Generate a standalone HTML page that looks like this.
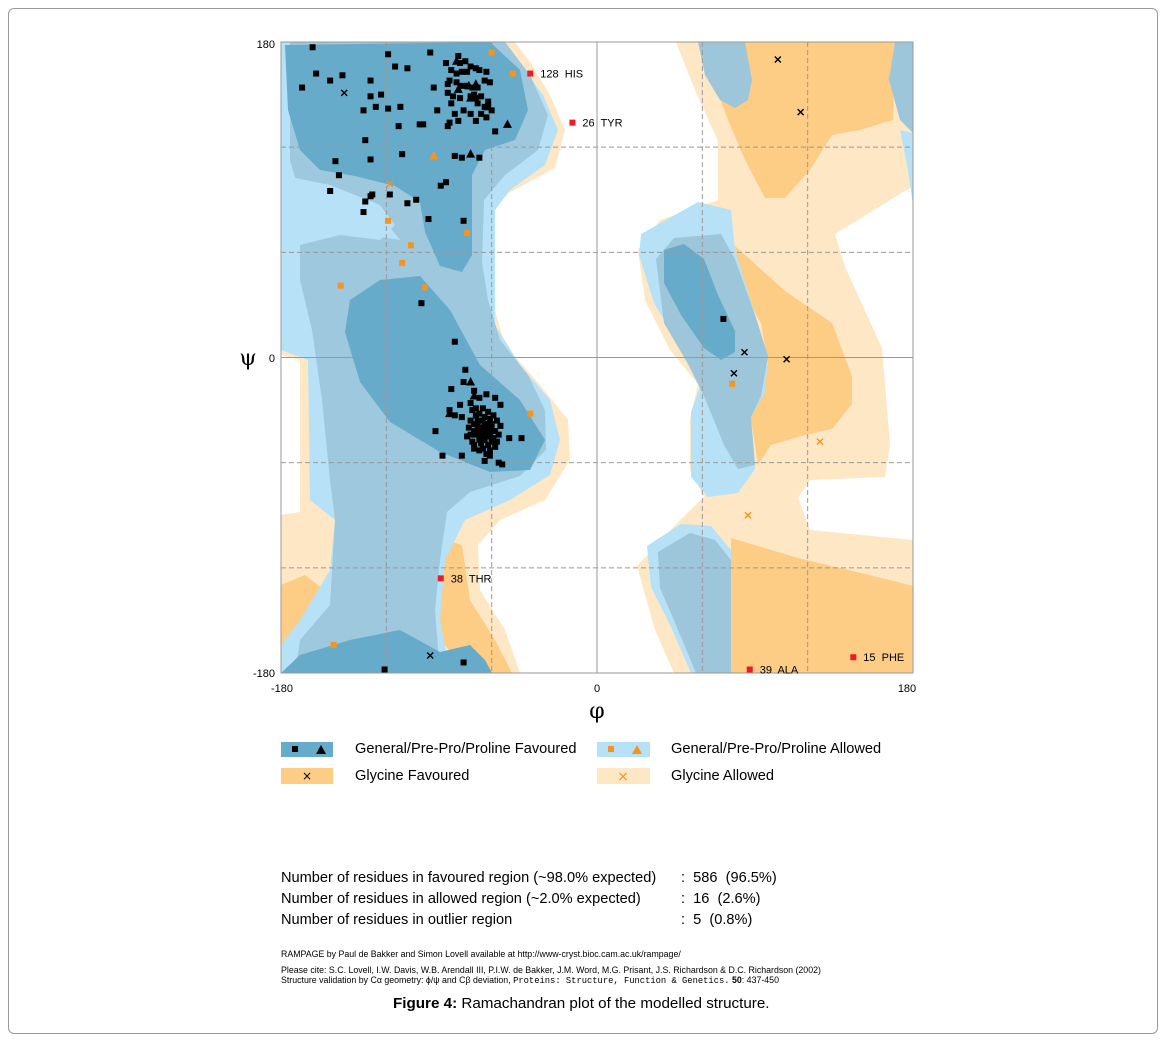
<!DOCTYPE html>
<html><head><meta charset="utf-8"><style>
body{margin:0;background:#fff;font-family:"Liberation Sans",sans-serif;}
#frame{position:absolute;left:8px;top:8px;width:1148px;height:1024px;border:1px solid #999;border-radius:6px;}
.t{position:absolute;color:#000;white-space:nowrap;}
</style></head><body>
<div id="frame"></div>
<svg id="plot" width="1165" height="1042" style="position:absolute;left:0;top:0" xmlns="http://www.w3.org/2000/svg">
<defs><clipPath id="pc"><rect x="281" y="42" width="632" height="631"/></clipPath></defs>
<g clip-path="url(#pc)">
<polygon fill="#fde7c5" points="281,42 515,42 530,62 550,95 565,130 555,168 505,195 492,215 492,300 505,345 540,385 568,420 570,460 545,500 500,520 478,545 480,590 505,630 520,673 281,673 281,515 300,512 300,360 281,355"/>
<polygon fill="#fdcc85" points="281,585 305,575 330,595 305,640 281,662"/>
<polygon fill="#fdcc85" points="440,538 462,545 470,600 495,640 512,673 470,673 440,640 432,600"/>
<polygon fill="#b6e1f6" points="281,42 505,42 518,62 543,95 558,130 545,165 510,190 495,210 495,325 520,365 550,400 560,440 550,475 510,500 465,520 445,560 440,620 450,673 281,673 281,645 300,620 330,570 335,520 310,500 308,360 281,350"/>
<polygon fill="#9ec8dd" points="290,42 505,42 530,75 548,115 538,150 505,175 484,200 482,262 488,300 500,340 528,375 545,410 546,450 520,476 470,492 447,512 440,560 435,610 440,673 295,673 300,640 330,605 335,520 330,480 322,400 312,330 300,280 300,240 350,232 400,240 380,215 340,200 300,195 290,160"/>
<polygon fill="#b6e1f6" points="281,175 330,185 380,205 395,225 380,240 340,235 300,245 281,245"/>
<polygon fill="#67abcb" points="285,45 490,42 520,70 528,110 515,140 485,150 472,175 472,255 462,272 440,266 425,232 420,202 395,186 355,176 320,170 300,150 288,110"/>
<polygon fill="#67abcb" points="350,300 380,280 420,276 450,310 480,365 520,400 545,440 530,470 490,472 440,452 390,422 360,382 345,332"/>
<polygon fill="#67abcb" points="281,673 300,655 350,640 400,630 440,652 470,645 485,660 492,673"/>
<polygon fill="#fde7c5" points="676,42 913,42 913,186 835,234 845,267 882,348 890,445 885,477 810,480 798,498 810,530 913,540 913,673 674,673 655,630 637,566 680,520 704,497 690,470 690,420 698,384 670,350 645,300 638,250 660,220 718,200 718,141 695,90"/>
<polygon fill="#fdcc85" points="712,42 895,42 893,120 860,130 832,135 810,170 785,198 765,198 745,160 728,120 715,85"/>
<polygon fill="#fdcc85" points="735,246 785,291 832,323 852,376 852,404 832,429 805,435 771,445 758,465 750,412 768,364 761,323 738,283"/>
<polygon fill="#fdcc85" points="731,538 798,558 865,574 913,586 913,673 731,673"/>
<polygon fill="#9ec6da" points="698,42 745,42 752,80 748,100 735,108 720,100 705,75"/>
<polygon fill="#9ec6da" points="895,42 913,42 913,133 900,120 889,80"/>
<polygon fill="#b6e1f6" points="913,133 913,205 908,170 900,130"/>
<polygon fill="#b6e1f6" points="641,234 698,202 731,210 735,250 755,315 768,356 765,392 751,417 755,469 738,493 708,497 691,477 691,412 701,384 681,348 654,303 639,255"/>
<polygon fill="#9ec6da" points="656,259 674,238 721,234 735,259 755,315 768,356 761,396 751,417 755,465 738,469 724,445 704,396 688,364 664,323"/>
<polygon fill="#67abcb" points="664,250 684,244 704,259 718,295 735,331 735,352 721,360 704,348 681,315 664,283"/>
<polygon fill="#b6e1f6" points="647,546 681,524 711,526 731,550 731,673 691,673 671,627 651,587"/>
<polygon fill="#9ec6da" points="658,552 690,533 715,540 731,560 731,673 696,673 676,625 660,588"/>
</g>
<g id="grid"></g>
<rect x="281" y="42" width="632" height="631" fill="none" stroke="#999" stroke-width="1"/>
<g id="marks"></g>
<text x="275" y="48" font-size="11" text-anchor="end" font-family="Liberation Sans">180</text>
<text x="275" y="362" font-size="11" text-anchor="end" font-family="Liberation Sans">0</text>
<text x="275" y="677" font-size="11" text-anchor="end" font-family="Liberation Sans">-180</text>
<text x="282" y="692" font-size="11" text-anchor="middle" font-family="Liberation Sans">-180</text>
<text x="597" y="692" font-size="11" text-anchor="middle" font-family="Liberation Sans">0</text>
<text x="907" y="692" font-size="11" text-anchor="middle" font-family="Liberation Sans">180</text>
<text x="248" y="365" font-size="22" text-anchor="middle" font-family="DejaVu Serif,serif">ψ</text>
<text x="597" y="718" font-size="22" text-anchor="middle" font-family="DejaVu Serif,serif">φ</text>
<g>
<rect x="281" y="742" width="52" height="15" fill="#67abcb"/>
<rect x="292" y="746" width="6" height="6" fill="#000"/><polygon points="321,745 326,754 316,754" fill="#000"/>
<rect x="597" y="742" width="53" height="15" fill="#b6e1f6"/>
<rect x="608" y="746" width="6" height="6" fill="#f7941d"/><polygon points="637,745 642,754 632,754" fill="#f7941d"/>
<rect x="281" y="768" width="52" height="16" fill="#fdcc85"/>
<text x="307" y="780" font-size="12" text-anchor="middle" font-family="DejaVu Sans">×</text>
<rect x="597" y="768" width="53" height="16" fill="#fde7c5"/>
<text x="623" y="781" font-size="14" text-anchor="middle" fill="#f7941d" font-family="DejaVu Sans">×</text>
</g>
</svg>
<div class="t" style="left:355px;top:741px;font-size:14.6px">General/Pre-Pro/Proline Favoured</div>
<div class="t" style="left:671px;top:741px;font-size:14.6px">General/Pre-Pro/Proline Allowed</div>
<div class="t" style="left:355px;top:768px;font-size:14.6px">Glycine Favoured</div>
<div class="t" style="left:671px;top:768px;font-size:14.6px">Glycine Allowed</div>
<div>
<div class="t" style="left:281px;top:870px;font-size:14.6px">Number of residues in favoured region (~98.0% expected)</div>
<div class="t" style="left:681px;top:870px;font-size:14.6px">:&nbsp; 586&nbsp; (96.5%)</div>
<div class="t" style="left:281px;top:891px;font-size:14.6px">Number of residues in allowed region (~2.0% expected)</div>
<div class="t" style="left:681px;top:891px;font-size:14.6px">:&nbsp; 16&nbsp; (2.6%)</div>
<div class="t" style="left:281px;top:912px;font-size:14.6px">Number of residues in outlier region</div>
<div class="t" style="left:681px;top:912px;font-size:14.6px">:&nbsp; 5&nbsp; (0.8%)</div>
</div>
<div class="t" style="left:281px;top:949px;font-size:8.8px">RAMPAGE by Paul de Bakker and Simon Lovell available at http://www-cryst.bioc.cam.ac.uk/rampage/</div>
<div class="t" style="left:281px;top:965px;font-size:8.8px">Please cite: S.C. Lovell, I.W. Davis, W.B. Arendall III, P.I.W. de Bakker, J.M. Word, M.G. Prisant, J.S. Richardson &amp; D.C. Richardson (2002)</div>
<div class="t" style="left:281px;top:975px;font-size:8.8px">Structure validation by Cα geometry: ϕ/ψ and Cβ deviation, <span style="font-family:'Liberation Mono',monospace">Proteins: Structure, Function &amp; Genetics.</span> <b>50</b>: 437-450</div>
<div class="t" style="left:393px;top:995px;font-size:15.2px"><b>Figure 4:</b> Ramachandran plot of the modelled structure.</div>
<script>
const genFavSquares=[[-162,177],[-160,162],[-168,154],[-145,161],[-152,158],[-129,158],[-119,173],[-115,166],[-108,165],[-95,174],[-129,149],[-123,150],[-133,141],[-126,143],[-119,142],[-112,143],[-93,154],[-85,156],[-132,124],[-113,132],[-101,133],[-99,133],[-91,141],[-129,113],[-111,116],[-149,112],[-147,104],[-152,95],[-132,89],[-129,92],[-128,93],[-133,83],[-118,93],[-108,88],[-103,90],[-96,79],[-76,78],[-89,98],[-86,100],[-77,114],[-81,115],[-85,132],[-84,134],[-76,141],[-70,150],[-60,141],[-58,129],[-67,114],
[-79,172],[-78,168],[-75,169],[-72,166],[-86,168],[-83,164],[-80,162],[-77,163],[-74,163],[-69,165],[-67,164],[-63,163],[-84,158],[-80,157],[-77,155],[-74,155],[-71,154],[-68,154],[-64,158],[-61,157],[-85,151],[-82,149],[-78,148],[-72,149],[-69,148],[-66,149],[-62,146],[-68,145],[-64,143],[-62,143],[-72,139],[-66,139],[-63,137],[-81,139],[-79,135],[-83,145],[-69,135],
[-100,31],[-81,9],[72,22],[-121,-178],[-76,-174],
[-75,-7],[-83,-18],[-76,-14],[-70,-19],[-67,-23],[-63,-21],[-78,-27],[-84,-30],[-92,-42],[-88,-56],[-77,-56],[-70,-52],[-64,-59],[-61,-56],[-56,-60],[-54,-61],[-50,-46],[-43,-46],[-55,-27],[-58,-23],[-77,-34],[-72,-26],[-69,-29],[-81,-33],
[-66,-40],[-64,-42],[-68,-38],[-62,-41],[-70,-42],[-65,-36],[-63,-45],[-67,-47],[-60,-38],[-72,-36],[-61,-44],[-69,-44],[-64,-34],[-58,-42],[-66,-49],[-71,-48],[-62,-50],[-59,-46],[-67,-32],[-73,-40],[-57,-36],[-63,-38],[-65,-44],[-68,-41],[-61,-35],[-70,-38],[-64,-47],[-60,-48],[-66,-43],[-62,-31],[-69,-33],[-56,-44],[-74,-45],[-58,-51],[-65,-52],[-71,-30],[-63,-55],[-67,-53],[-60,-41],[-55,-39],[-68,-36],[-66,-46],[-62,-45],[-64,-39],[-70,-50],[-59,-33],[-72,-44],[-57,-48],[-65,-29],[-61,-53]];
const genFavTriangles=[[-80,169],[-73,155],[-79,153],[-69,156],[-72,148],[-62,143],[-51,133],[-72,116],[-72,-14],[-84,-32],[-70,-22]];
const genAllowSquares=[[-60,174],[-48,162],[-119,78],[-106,64],[-111,54],[-146,41],[-98,40],[-74,71],[-38,-32],[77,-15],[-150,-164]];
const genAllowTriangles=[[-93,115]];
const glyFavCrosses=[[-144,151],[103,170],[116,140],[84,3],[78,-9],[108,-1],[-95,-170]];
const glyAllowCrosses=[[-118,99],[127,-48],[86,-90]];
const outlierPoints=[[-38,162],[-14,134],[-89,-126],[87,-178],[146,-171]];
const outlierLabels=["128  HIS","26  TYR","38  THR","39  ALA","15  PHE"];
const gridTicks=[-120,-60,60,120];

const X0=281,W=632,Y0=42,H=631;
function sx(phi){return X0+(phi+180)/360*W;}
function sy(psi){return Y0+(180-psi)/360*H;}
const NS="http://www.w3.org/2000/svg";
const grid=document.getElementById('grid'),marks=document.getElementById('marks');
function mk(tag,attrs,parent){const e=document.createElementNS(NS,tag);for(const k in attrs)e.setAttribute(k,attrs[k]);parent.appendChild(e);return e;}
gridTicks.forEach(v=>{
  const a=mk('line',{x1:sx(v),x2:sx(v),y1:Y0,y2:Y0+H,stroke:'#999','stroke-dasharray':'5,3'},grid);
  
  
  const b=mk('line',{x1:X0,x2:X0+W,y1:sy(v),y2:sy(v),stroke:'#999','stroke-dasharray':'5,3'},grid);
  
  
});
const z1=mk('line',{x1:sx(0),x2:sx(0),y1:Y0,y2:Y0+H,stroke:'#999'},grid);


const z2=mk('line',{x1:X0,x2:X0+W,y1:sy(0),y2:sy(0),stroke:'#999'},grid);


function square(p,c,name){const e=mk('rect',{x:sx(p[0])-3,y:sy(p[1])-3,width:6,height:6,fill:c},marks);
  
  }
function tri(p,c){const x=sx(p[0]),y=sy(p[1]);const e=mk('polygon',{points:`${x},${y-5} ${x+4.5},${y+3.5} ${x-4.5},${y+3.5}`,fill:c},marks);
  
  }
function cross(p,c){const x=sx(p[0]),y=sy(p[1]);const e=mk('path',{d:`M${x-3},${y-3}L${x+3},${y+3}M${x+3},${y-3}L${x-3},${y+3}`,stroke:c,'stroke-width':1.4},marks);
  
  }
genFavSquares.forEach(p=>square(p,'#000','residue-square'));
genFavTriangles.forEach(p=>tri(p,'#000'));
genAllowSquares.forEach(p=>square(p,'#f7941d','allowed-residue-square'));
genAllowTriangles.forEach(p=>tri(p,'#f7941d'));
glyFavCrosses.forEach(p=>cross(p,'#000'));
glyAllowCrosses.forEach(p=>cross(p,'#f7941d'));
outlierPoints.forEach((p,i)=>{
  square(p,'#ed1c24','outlier-square');
  const t=mk('text',{x:sx(p[0])+10,y:sy(p[1])+4,'font-size':11,'font-family':'Liberation Sans','xml:space':'preserve'},marks);
  t.style.whiteSpace='pre';
  t.textContent=outlierLabels[i];
  
  
});
</script>
</body></html>
